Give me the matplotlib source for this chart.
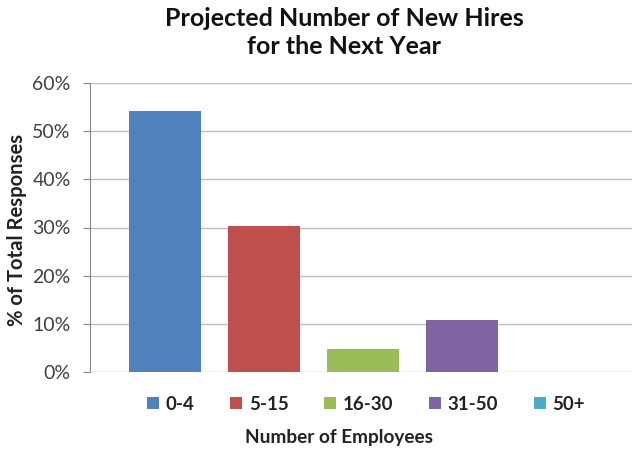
import matplotlib.pyplot as plt
from matplotlib.ticker import PercentFormatter
from matplotlib.patches import Patch

# Survey data
groups = ['0-4', '5-15', '16-30', '31-50', '50+']
share = [54.2, 30.3, 4.8, 10.8, 0.0]
colors = ['#4F81BD', '#C0504D', '#9BBB59', '#8064A2', '#4BACC6']

plt.rcParams['font.family'] = ['Lato', 'DejaVu Sans']

fig = plt.figure(figsize=(6.38, 4.5), dpi=100)
ax = fig.add_axes([90 / 638, 78 / 450, 542 / 638, 289 / 450])

x = range(len(groups))
ax.bar(x, share, width=0.727, color=colors, zorder=3)

ax.set_xlim(-0.76, 4.72)
ax.set_ylim(0, 60)
ax.set_yticks(range(0, 61, 10))
ax.yaxis.set_major_formatter(PercentFormatter(decimals=0))
ax.set_xticks([])

ax.grid(axis='y', color='#BEBEBE', linewidth=1, zorder=0)
for side in ['top', 'right', 'bottom']:
    ax.spines[side].set_visible(False)
ax.spines['left'].set_color('#888888')
ax.tick_params(axis='y', length=5, color='#888888', labelsize=14,
               labelcolor='#404040', pad=9)

# axis titles and chart title
fig.text(17 / 638, 1 - 230 / 450, '% of Total Responses', rotation=90,
         ha='center', va='center', fontsize=14.6, fontweight='bold',
         color='#222222')

fig.text(339 / 638, 1 - 437 / 450, 'Number of Employees', ha='center',
         va='center', fontsize=13.7, fontweight='bold', color='#222222')

fig.text(344 / 638, 0.928, 'Projected Number of New Hires\nfor the Next Year',
         ha='center', va='center', fontsize=18, fontweight='bold',
         linespacing=1.25, color='#111111')

handles = [Patch(facecolor=c, label=g) for g, c in zip(groups, colors)]
leg = fig.legend(handles=handles, loc='center',
                 bbox_to_anchor=(366 / 638, 1 - 404 / 450), ncol=5,
                 frameon=False, handlelength=0.65, handleheight=0.65,
                 handletextpad=0.35, columnspacing=1.9,
                 prop={'size': 13.5, 'weight': 'bold'})
for t in leg.get_texts():
    t.set_color('#222222')

fig.savefig('out.png', dpi=100)
